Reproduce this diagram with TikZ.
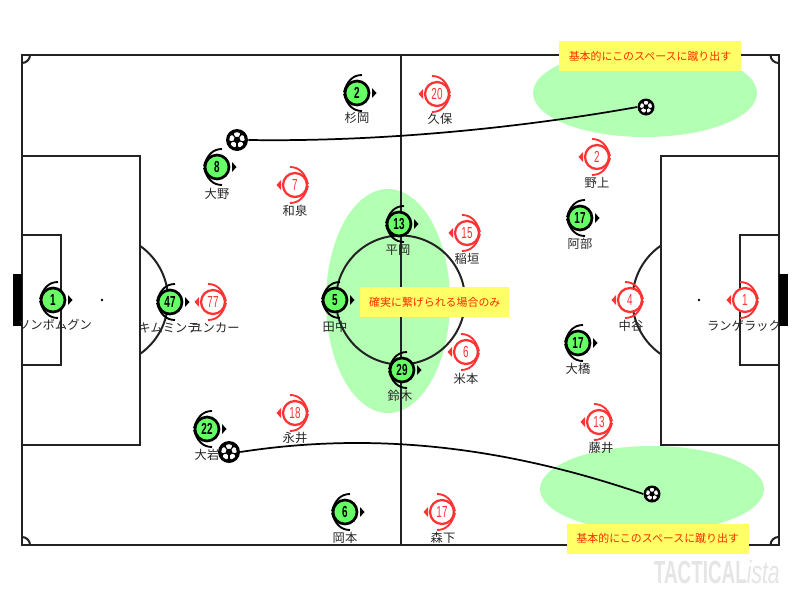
\documentclass[tikz,border=0pt]{standalone}
\usepackage{fontspec}
\usetikzlibrary{calc}
\setmainfont{Noto Sans CJK JP}
\newfontfamily\numg[FakeStretch=0.62]{Liberation Sans Bold}
\newfontfamily\numr[FakeStretch=0.62]{Liberation Sans}
\newfontfamily\wma[FakeStretch=0.59]{Liberation Sans Bold}
\newfontfamily\wmb[FakeStretch=0.66]{Liberation Sans Italic}
\definecolor{pgreen}{HTML}{66FF66}
\definecolor{pred}{HTML}{FF3333}
\definecolor{zone}{HTML}{B3FFB3}
\definecolor{note}{HTML}{FFFF66}
\definecolor{noter}{HTML}{FF2A00}
\definecolor{lineg}{HTML}{222222}
\tikzset{
  pitchline/.style={draw=lineg,line width=1.5pt},
  zonefill/.style={fill=zone,draw=none},
  gdisc/.style={circle,draw=black,line width=2pt,fill=pgreen,inner sep=0pt,minimum size=18pt,font=\numg\fontsize{12}{12}\selectfont,text=black},
  rdisc/.style={circle,draw=pred,line width=1.7pt,fill=white,inner sep=0pt,minimum size=18pt,font=\numr\fontsize{12}{12}\selectfont,text=pred},
  namelabel/.style={font=\fontsize{9.2}{10}\selectfont,text=black!85,inner sep=0pt},
  notebox/.style={fill=note,text=noter,font=\fontsize{8.2}{10}\selectfont,inner sep=0pt,minimum height=22.8pt},
  ballnode/.style={circle,fill=black,draw=none,inner sep=0pt},
  runline/.style={draw=black,line width=1.3pt}
}
\newcommand{\gplayer}[6]{%
  \fill[black] (#2+15,#3-5) -- (#2+19.5,#3) -- (#2+15,#3+5) -- cycle;
  \draw[black,line width=1.4pt] (#2+5,#3-18) .. controls (#2-4,#3-18) and (#2-10,#3-12) .. (#2-13,#3-1);
  \draw[black,line width=1.4pt] (#2+5,#3+18) .. controls (#2-4,#3+18) and (#2-10,#3+12) .. (#2-13,#3+1);
  \node[gdisc] (#1) at (#2,#3) {#4};
  \node[namelabel] (#1n) at #5 {#6};}
\newcommand{\rplayer}[6]{%
  \fill[pred] (#2-14,#3-5) -- (#2-18.5,#3) -- (#2-14,#3+5) -- cycle;
  \draw[pred,line width=1.4pt] (#2-5,#3-18) .. controls (#2+4,#3-18) and (#2+10,#3-12) .. (#2+13,#3-1);
  \draw[pred,line width=1.4pt] (#2-5,#3+18) .. controls (#2+4,#3+18) and (#2+10,#3+12) .. (#2+13,#3+1);
  \node[rdisc] (#1) at (#2,#3) {#4};
  \node[namelabel] (#1n) at #5 {#6};}
% ball: name, x, y, radius
\newcommand{\ballat}[4]{%
  \node[ballnode,minimum size=#4*1.5pt] (#1) at (#2,#3) {};
  \fill[white] (#2,#3) circle (#4*0.7);
  \foreach \a in {90,162,234,306,378}{
    \fill[black] ($(#2,#3)+(\a-20:#4*0.8)$) -- ($(#2,#3)+(\a:#4*0.5)$) -- ($(#2,#3)+(\a+20:#4*0.8)$) -- cycle;
    \draw[black,line width=#4*0.08pt] (#2,#3) -- ++(\a:#4*0.6);
  }
  \fill[black] (#2,#3) circle (#4*0.3);}
\begin{document}
\begin{tikzpicture}[x=0.75pt,y=-0.75pt]
\useasboundingbox (0,0) rectangle (800,600);
\fill[white] (0,0) rectangle (800,600);
% zones
\fill[zonefill] (388,301) ellipse (62 and 112);
\fill[zonefill] (645,93) ellipse (112 and 44);
\fill[zonefill] (652,489) ellipse (112 and 43);
% pitch
\draw[pitchline] (22,55) rectangle (778.5,545);
\draw[pitchline] (400.5,55) -- (400.5,545);
\draw[pitchline] (400.5,300) circle (64.5);
\draw[pitchline] (22,155.5) -- (139.5,155.5) -- (139.5,445) -- (22,445);
\draw[pitchline] (22,235) -- (60.5,235) -- (60.5,365) -- (22,365);
\draw[pitchline] (778.5,155.5) -- (661,155.5) -- (661,445) -- (778.5,445);
\draw[pitchline] (778.5,235) -- (740,235) -- (740,365) -- (778.5,365);
\draw[pitchline] (139.5,245.5) arc[start angle=-55.5,end angle=55.5,radius=66];
\draw[pitchline] (661,245.5) arc[start angle=235.5,end angle=124.5,radius=66];
\draw[pitchline] (30,55) arc[start angle=0,end angle=90,radius=8];
\draw[pitchline] (770.5,55) arc[start angle=180,end angle=90,radius=8];
\draw[pitchline] (30,545) arc[start angle=0,end angle=-90,radius=8];
\draw[pitchline] (770.5,545) arc[start angle=180,end angle=270,radius=8];
\fill[black] (13,274) rectangle (22,326);
\fill[black] (778.5,274) rectangle (787.5,326);
\fill[black] (102,300) circle (1.3);
\fill[black] (699,300) circle (1.3);
% notes
\node[notebox,minimum width=136.5pt] (noteA) at (650,56) {基本的にこのスペースに蹴り出す};
\node[notebox,minimum width=112pt] (noteB) at (434.8,302.2) {確実に繋げられる場合のみ};
\node[notebox,minimum width=136.5pt] (noteC) at (657.7,538.7) {基本的にこのスペースに蹴り出す};
% green team
\gplayer{ga}{53}{300}{1}{(55,325)}{ソンボムグン}
\gplayer{gb}{357}{93}{2}{(357,118)}{杉岡}
\gplayer{gc}{217}{167}{8}{(217,194)}{大野}
\gplayer{gd}{170}{302}{47}{(169,328)}{キムミンテ}
\gplayer{ge}{335}{300}{5}{(335,327)}{田中}
\gplayer{gf}{399}{224}{13}{(398,250)}{平岡}
\gplayer{gg}{402}{370}{29}{(400,396)}{鈴木}
\gplayer{gh}{207}{429}{22}{(207,455)}{大岩}
\gplayer{gi}{345}{512}{6}{(345,538)}{岡本}
\gplayer{gj}{580}{218}{17}{(580,244)}{阿部}
\gplayer{gk}{578}{343}{17}{(578,369)}{大橋}
% red team
\rplayer{ra}{745}{300}{1}{(744,326)}{ランゲラック}
\rplayer{rb}{597}{157}{2}{(597,183)}{野上}
\rplayer{rc}{630}{300}{4}{(631,326)}{中谷}
\rplayer{rd}{466}{352}{6}{(466,379)}{米本}
\rplayer{re}{295}{185}{7}{(295,211)}{和泉}
\rplayer{rf}{599}{422}{13}{(601,448)}{藤井}
\rplayer{rg}{467}{233}{15}{(467,259)}{稲垣}
\rplayer{rh}{442}{512}{17}{(443,538)}{森下}
\rplayer{ri}{295}{413}{18}{(295,438)}{永井}
\rplayer{rj}{437}{94}{20}{(440,119)}{久保}
\rplayer{rk}{213}{302}{77}{(215,328)}{ユンカー}
% balls and runs
\ballat{ballA}{237}{140}{11}
\ballat{ballB}{229}{452}{11}
\ballat{ballC}{646}{107}{8.5}
\ballat{ballD}{652}{494}{8.5}
\draw[runline] (ballA.east) .. controls (380,142) and (520,128) .. (ballC.west);
\draw[runline] (ballB.east) .. controls (370,432) and (500,445) .. (ballD.west);
% watermark
\node[anchor=east,inner sep=0pt,text=black!10] (mark) at (780,572) {\fontsize{24}{24}\selectfont{\wma TACTICAL}{\wmb ista}};
\end{tikzpicture}
\end{document}
